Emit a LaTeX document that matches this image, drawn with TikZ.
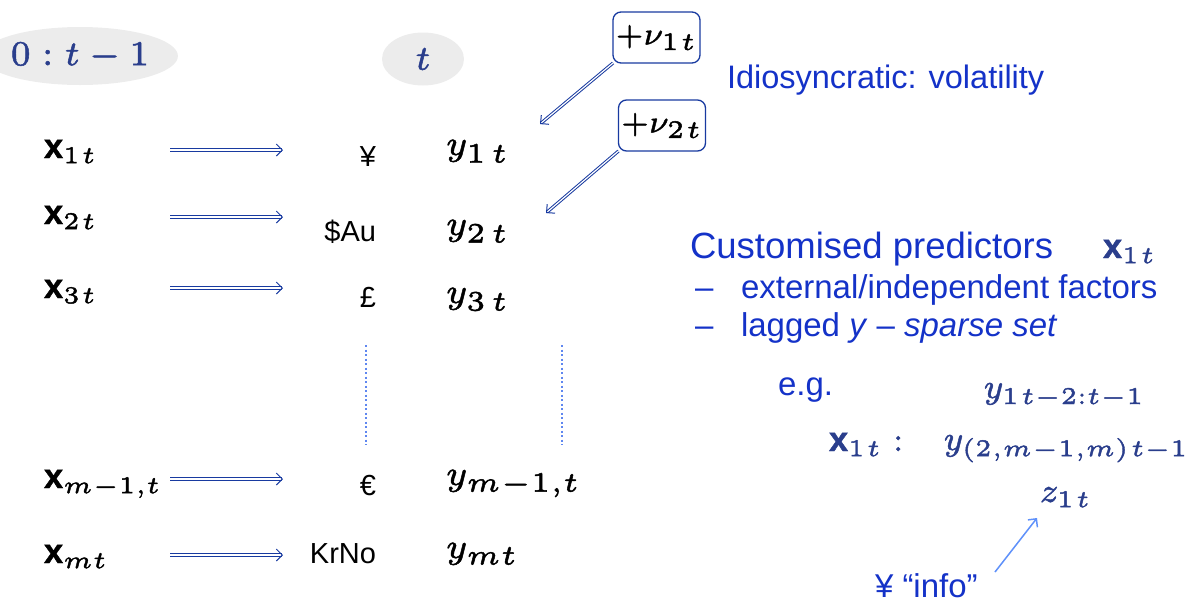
\RequirePackage{fix-cm}
\documentclass[tikz,border=0pt]{standalone}
\usepackage{graphicx}
\usepackage{fontspec}
\setsansfont{Liberation Sans}
\usetikzlibrary{arrows.meta,shapes.geometric}
\DeclareMathSizes{7}{7}{5.6}{4.5}
\DeclareMathSizes{8}{8}{5.6}{4.5}
\definecolor{arrowblue}{RGB}{24,58,160}
\definecolor{textblue}{RGB}{20,50,200}
\definecolor{mathnavy}{RGB}{42,62,140}
\definecolor{dotblue}{RGB}{95,135,240}
\definecolor{infoblue}{RGB}{95,145,250}
\definecolor{ellgray}{RGB}{236,236,236}
\newcommand{\bx}{\mbox{\sffamily\bfseries x}}
\newcommand{\hvon}{\special{pdf:literal direct 2 Tr 0.1 w}}
\newcommand{\hvoff}{\special{pdf:literal direct 0 Tr}}
\newcommand{\sx}[2]{\scalebox{#1}{\fontsize{7}{8.4}\selectfont\hvon #2\hvoff}}
\newcommand{\sxr}[2]{\scalebox{#1}{\fontsize{8}{9.6}\selectfont\hvon #2\hvoff}}
\newcommand{\lo}[2][0pt]{\raisebox{-#1}{$\scriptstyle #2$}}
\begin{document}
\begin{tikzpicture}[x=1pt,y=-1pt,
  every node/.style={inner sep=0pt, outer sep=0pt},
  ell/.style={ellipse, fill=ellgray, text=mathnavy},
  lab/.style={anchor=base west},
  cur/.style={anchor=base east, font=\sffamily\fontsize{29}{32}\selectfont},
  dbl/.style={draw=arrowblue, double=white, double distance=1.2pt, line width=1pt, -{Straight Barb[length=6pt, width=12pt]}},
  dotline/.style={draw=dotblue, line width=2pt, dash pattern=on 2pt off 2.5pt},
  nubox/.style={draw=arrowblue, line width=1.3pt, rounded corners=8pt, minimum width=87pt, minimum height=51pt},
  btxt/.style={anchor=base west, text=textblue, font=\sffamily\fontsize{33}{36}\selectfont},
  rmath/.style={anchor=base west, text=mathnavy},
  infoarrow/.style={draw=infoblue, line width=1.5pt, -{Straight Barb[length=6pt, width=12pt]}}
]
\useasboundingbox (0,0) rectangle (1196,603);
% time headers
\node[ell, minimum width=162pt, minimum height=58pt] (past) at (80,56) {\sx{5.0}{$0:t-1$}};
\node[ell, minimum width=82pt, minimum height=53pt] (now) at (423,59) {\sx{5.0}{$t$}};
% x labels
\node[lab] (x1) at (44,158) {\sxr{4.3}{$\bx_{\lo[0.2pt]{1\hspace{0.5pt}t}}$}};
\node[lab] (x2) at (44,224) {\sxr{4.3}{$\bx_{\lo[0.2pt]{2\hspace{0.5pt}t}}$}};
\node[lab] (x3) at (44,298) {\sxr{4.3}{$\bx_{\lo[0.2pt]{3\hspace{0.5pt}t}}$}};
\node[lab] (xm1) at (44,488) {\sxr{4.3}{$\bx_{\lo[0.2pt]{m-1,t}}$}};
\node[lab] (xm) at (44,563) {\sxr{4.3}{$\bx_{\lo[0.2pt]{mt}}$}};
% arrows
\coordinate (a1) at (170,150); \coordinate (b1) at (283,150);
\coordinate (a2) at (170,217); \coordinate (b2) at (283,217);
\coordinate (a3) at (170,288); \coordinate (b3) at (283,288);
\coordinate (a4) at (170,479); \coordinate (b4) at (283,479);
\coordinate (a5) at (170,555); \coordinate (b5) at (283,555);
\draw[dbl] (a1) -- (b1);
\draw[dbl] (a2) -- (b2);
\draw[dbl] (a3) -- (b3);
\draw[dbl] (a4) -- (b4);
\draw[dbl] (a5) -- (b5);
% currencies
\node[cur] (c1) at (376,166) {¥};
\node[cur] (c2) at (376,241) {\$Au};
\node[cur] (c3) at (376,307) {£};
\node[cur] (c4) at (376,495) {€};
\node[cur] (c5) at (376,563) {KrNo};
% y labels
\node[lab] (y1) at (446,155) {\sx{5}{$y_{\lo[0.5pt]{1\hspace{1.2pt}t}}$}};
\node[lab] (y2) at (446,235) {\sx{5}{$y_{\lo[0.5pt]{2\hspace{1.2pt}t}}$}};
\node[lab] (y3) at (446,303) {\sx{5}{$y_{\lo[0.5pt]{3\hspace{1.2pt}t}}$}};
\node[lab] (ym1) at (446,485) {\sx{5}{$y_{\lo[0.3pt]{m-1,t}}$}};
\node[lab] (ym) at (446,558) {\sx{5}{$y_{\lo[0.3pt]{mt}}$}};
% dotted lines
\coordinate (d1a) at (366,345); \coordinate (d1b) at (366,445);
\coordinate (d2a) at (562,345); \coordinate (d2b) at (562,445);
\draw[dotline] (d1a) -- (d1b);
\draw[dotline] (d2a) -- (d2b);
% nu boxes
\node[nubox] (n1) at (656.5,37.5) {\sx{4.5}{$+\nu_{\lo[0.2pt]{1\hspace{0.5pt}t}}$}};
\node[nubox] (n2) at (662,125.5) {\sx{4.5}{$+\nu_{\lo[0.2pt]{2\hspace{0.5pt}t}}$}};
\coordinate (n1t) at (540,124);
\coordinate (n2t) at (546,213);
\draw[dbl] (n1.south west) -- (n1t);
\draw[dbl] (n2.south west) -- (n2t);
\node[btxt, font=\sffamily\fontsize{32.5}{35}\selectfont] (idio) at (727,88) {Idiosyncratic: volatility};
% right panel
\node[btxt, font=\sffamily\fontsize{36.5}{40}\selectfont] (cust) at (690,258) {Customised predictors};
\node[rmath] (cx) at (1103,258) {\sxr{4.3}{$\bx_{\lo[0.2pt]{1\hspace{0.5pt}t}}$}};
\node[btxt] (dash1) at (695,298) {–};
\node[btxt] (ext) at (741,298) {external/independent factors};
\node[btxt] (dash2) at (695,336) {–};
\node[btxt] (lag) at (741,336) {lagged \textit{y} – \textit{sparse set}};
\node[btxt] (eg) at (778,395) {e.g.};
\node[rmath] (ylag) at (984,398) {\sxr{4.3}{$y_{\lo[0.4pt]{1\hspace{0.6pt}t-2:t-1}}$}};
\node[rmath] (xeg) at (829,451) {\sxr{4.3}{$\bx_{\lo[0.2pt]{1\hspace{0.5pt}t}}$\hspace{2.5pt}:}};
\node[rmath] (ycross) at (944,450) {\sxr{4.3}{$y_{\lo[0.4pt]{(2,m-1,m)\hspace{0.6pt}t-1}}$}};
\node[rmath] (z1) at (1040,502) {\sxr{4.3}{$z_{\lo[0.2pt]{1\hspace{0.6pt}t}}$}};
\node[btxt] (info) at (875,597) {¥ “info”};
\coordinate (ia) at (995,572);
\coordinate (ib) at (1037,518);
\draw[infoarrow] (ia) -- (ib);
\end{tikzpicture}
\end{document}
